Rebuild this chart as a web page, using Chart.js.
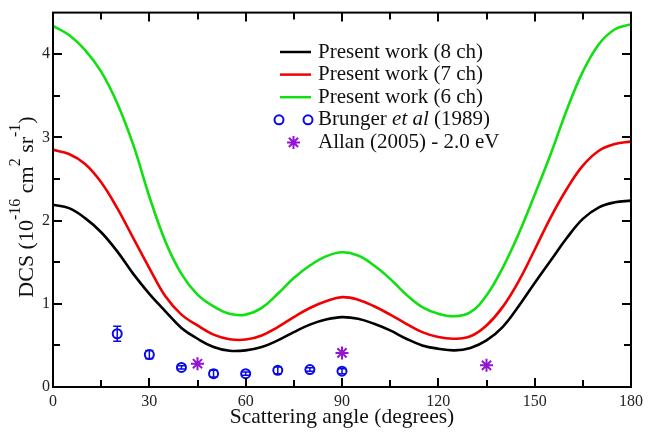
<!DOCTYPE html>
<html>
<head>
<meta charset="utf-8">
<script src="https://cdn.jsdelivr.net/npm/chart.js@4.4.0/dist/chart.umd.min.js"></script>
<style>
  html, body { margin: 0; padding: 0; background: #fff; }
</style>
</head>
<body>
<canvas id="dcs-chart" width="648" height="432"></canvas>
<script>
// scattering angle grid (degrees) for the calculated curves
const angles = [0, 5, 10, 15, 20, 25, 30, 35, 40, 45, 50, 55, 60, 65, 70, 75, 80, 85, 90,
                95, 100, 105, 110, 115, 120, 125, 130, 135, 140, 145, 150, 155, 160, 165, 170, 175, 180];

// DCS in 10^-16 cm^2 sr^-1
const dcs8ch = [2.19, 2.15, 2.03, 1.86, 1.63, 1.36, 1.12, 0.91, 0.71, 0.58, 0.48, 0.435, 0.44, 0.48, 0.56, 0.66, 0.75, 0.81, 0.84,
                0.82, 0.76, 0.68, 0.58, 0.50, 0.46, 0.44, 0.47, 0.56, 0.72, 0.97, 1.25, 1.52, 1.79, 2.02, 2.16, 2.22, 2.24];
const dcs7ch = [2.85, 2.80, 2.68, 2.46, 2.15, 1.79, 1.43, 1.09, 0.87, 0.74, 0.63, 0.575, 0.57, 0.62, 0.72, 0.84, 0.95, 1.03, 1.08,
                1.05, 0.97, 0.87, 0.76, 0.66, 0.60, 0.58, 0.61, 0.74, 0.96, 1.27, 1.65, 2.04, 2.38, 2.66, 2.84, 2.92, 2.95];
const dcs6ch = [4.34, 4.23, 4.05, 3.79, 3.41, 2.91, 2.29, 1.75, 1.36, 1.11, 0.97, 0.88, 0.87, 0.95, 1.12, 1.31, 1.46, 1.57, 1.62,
                1.58, 1.46, 1.30, 1.11, 0.96, 0.88, 0.85, 0.90, 1.10, 1.43, 1.84, 2.31, 2.80, 3.33, 3.79, 4.12, 4.30, 4.36];

// measurements
const brungerAngles = [20, 30, 40, 50, 60, 70, 80, 90];
const brungerDcs = [0.64, 0.39, 0.235, 0.16, 0.16, 0.20, 0.21, 0.19];
const brungerErr = [0.09, 0.05, 0.02, 0.04, 0.02, 0.04, 0.02, 0.03];
const allanAngles = [45, 90, 135];
const allanDcs = [0.28, 0.41, 0.26];

const xTicks = [0, 30, 60, 90, 120, 150, 180];
const yTicks = [0, 1, 2, 3, 4];

const seriesNames = ['Present work (8 ch)', 'Present work (7 ch)', 'Present work (6 ch)', 'Brunger et al (1989)', 'Allan (2005) - 2.0 eV'];

const GREEN = '#10e010', RED = '#f00000', BLUE = '#0a0ae8', PURPLE = '#9414d4';
const SERIF = '"Liberation Serif", "Times New Roman", serif';

const toXY = (xs, ys) => xs.map((x, i) => ({ x: x, y: ys[i] }));

// error bars for the Brunger points
const errorBars = {
  id: 'errorBars',
  beforeDatasetsDraw(chart) {
    const ctx = chart.ctx, xs = chart.scales.x, ys = chart.scales.y;
    ctx.save();
    ctx.strokeStyle = BLUE;
    ctx.lineWidth = 1.5;
    brungerAngles.forEach((a, i) => {
      const px = xs.getPixelForValue(a);
      const top = ys.getPixelForValue(brungerDcs[i] + brungerErr[i]);
      const bot = ys.getPixelForValue(brungerDcs[i] - brungerErr[i]);
      ctx.beginPath();
      ctx.moveTo(px, top); ctx.lineTo(px, bot);
      ctx.moveTo(px - 4, top); ctx.lineTo(px + 4, top);
      ctx.moveTo(px - 4, bot); ctx.lineTo(px + 4, bot);
      ctx.stroke();
    });
    ctx.restore();
  }
};

// closed frame with inward ticks on all four sides
const frame = {
  id: 'frame',
  afterDatasetsDraw(chart) {
    const ctx = chart.ctx, a = chart.chartArea, xs = chart.scales.x, ys = chart.scales.y;
    ctx.save();
    ctx.strokeStyle = '#000';
    ctx.lineWidth = 2;
    ctx.strokeRect(a.left, a.top, a.right - a.left, a.bottom - a.top);
    ctx.beginPath();
    for (let v = 0; v <= 180; v += 15) {
      const len = v % 30 === 0 ? 9 : 7;
      const px = Math.round(xs.getPixelForValue(v));
      ctx.moveTo(px, a.bottom); ctx.lineTo(px, a.bottom - len);
      ctx.moveTo(px, a.top); ctx.lineTo(px, a.top + len);
    }
    for (let v = 0; v < 4.5; v += 0.5) {
      const len = v % 1 === 0 ? 9 : 7;
      const py = Math.round(ys.getPixelForValue(v));
      ctx.moveTo(a.left, py); ctx.lineTo(a.left + len, py);
      ctx.moveTo(a.right, py); ctx.lineTo(a.right - len, py);
    }
    ctx.stroke();
    ctx.restore();
  }
};

// y axis title with superscripts
const yTitle = {
  id: 'yTitle',
  afterDraw(chart) {
    const ctx = chart.ctx;
    const parts = [['DCS (10', 0], ['-16', 1], [' cm', 0], ['2', 1], [' sr', 0], ['-1', 1], [')', 0]];
    const mainFont = '22px ' + SERIF, supFont = '16px ' + SERIF;
    ctx.save();
    ctx.translate(33, 207);
    ctx.rotate(-Math.PI / 2);
    ctx.fillStyle = '#111';
    ctx.textBaseline = 'alphabetic';
    ctx.textAlign = 'left';
    let total = 0;
    parts.forEach(p => { ctx.font = p[1] ? supFont : mainFont; total += ctx.measureText(p[0]).width; });
    let x = -total / 2;
    parts.forEach(p => {
      ctx.font = p[1] ? supFont : mainFont;
      ctx.fillText(p[0], x, p[1] ? -13 : 0);
      x += ctx.measureText(p[0]).width;
    });
    ctx.restore();
  }
};

// legend inside the plot
const innerLegend = {
  id: 'innerLegend',
  afterDraw(chart) {
    const ctx = chart.ctx;
    const lineX0 = 280, lineX1 = 311, textX = 318, y0 = 52, dy = 22.6;
    const size = '21px ';
    ctx.save();
    ctx.textBaseline = 'middle';
    ctx.textAlign = 'left';
    ctx.fillStyle = '#111';
    chart.data.datasets.forEach((ds, i) => {
      const y = y0 + i * dy;
      if (i < 3) {
        ctx.strokeStyle = ds.borderColor;
        ctx.lineWidth = 2.5;
        ctx.beginPath();
        ctx.moveTo(lineX0, y); ctx.lineTo(lineX1, y);
        ctx.stroke();
      } else {
        ctx.strokeStyle = ds.borderColor;
        ctx.fillStyle = 'rgba(0,0,0,0)';
        const opts = { pointStyle: ds.pointStyle, radius: ds.pointRadius, rotation: 0, borderWidth: ds.borderWidth };
        ctx.lineWidth = ds.borderWidth;
        if (i === 3) {
          Chart.helpers.drawPoint(ctx, opts, lineX0 - 1, y);
          Chart.helpers.drawPoint(ctx, opts, lineX1 - 3, y);
        } else {
          Chart.helpers.drawPoint(ctx, opts, (lineX0 + lineX1) / 2 - 2, y);
        }
        ctx.fillStyle = '#111';
      }
      ctx.font = size + SERIF;
      if (i === 3) {
        let x = textX;
        const pieces = [['Brunger ', ''], ['et al', 'italic '], [' (1989)', '']];
        pieces.forEach(p => {
          ctx.font = p[1] + size + SERIF;
          ctx.fillText(p[0], x, y);
          x += ctx.measureText(p[0]).width;
        });
      } else {
        ctx.fillText(ds.label, textX, y);
      }
    });
    ctx.restore();
  }
};

const curve = (label, ys, color) => ({
  label: label,
  data: toXY(angles, ys),
  borderColor: color,
  borderWidth: 2.6,
  pointRadius: 0,
  tension: 0.4,
  fill: false
});

new Chart(document.getElementById('dcs-chart').getContext('2d'), {
  type: 'line',
  data: {
    datasets: [
      curve(seriesNames[0], dcs8ch, '#000'),
      curve(seriesNames[1], dcs7ch, RED),
      curve(seriesNames[2], dcs6ch, GREEN),
      {
        label: seriesNames[3],
        data: toXY(brungerAngles, brungerDcs),
        showLine: false,
        pointStyle: 'circle',
        pointRadius: 4.5,
        borderWidth: 2,
        borderColor: BLUE,
        backgroundColor: 'rgba(0,0,0,0)'
      },
      {
        label: seriesNames[4],
        data: toXY(allanAngles, allanDcs),
        showLine: false,
        pointStyle: 'star',
        pointRadius: 6.5,
        borderWidth: 2,
        borderColor: PURPLE,
        backgroundColor: PURPLE
      }
    ]
  },
  options: {
    responsive: false,
    devicePixelRatio: 1,
    animation: false,
    layout: { padding: { top: 10, right: 15, left: 0, bottom: 0 } },
    plugins: { legend: { display: false }, tooltip: { enabled: false } },
    scales: {
      x: {
        type: 'linear',
        min: 0,
        max: 180,
        afterBuildTicks: s => { s.ticks = xTicks.map(v => ({ value: v })); },
        afterFit: s => { s.height = 45; },
        grid: { display: false, drawTicks: false },
        border: { display: false },
        ticks: { font: { family: SERIF, size: 16 }, color: '#222', padding: 5, maxRotation: 0 },
        title: {
          display: true,
          text: 'Scattering angle (degrees)',
          font: { family: SERIF, size: 21.5 },
          color: '#111',
          padding: { top: 0, bottom: 2 }
        }
      },
      y: {
        min: 0,
        max: 4.5,
        afterBuildTicks: s => { s.ticks = yTicks.map(v => ({ value: v })); },
        afterFit: s => { s.width = 53; },
        grid: { display: false, drawTicks: false },
        border: { display: false },
        ticks: { font: { family: SERIF, size: 16 }, color: '#222', padding: 3 }
      }
    }
  },
  plugins: [errorBars, frame, yTitle, innerLegend]
});
</script>
</body>
</html>
